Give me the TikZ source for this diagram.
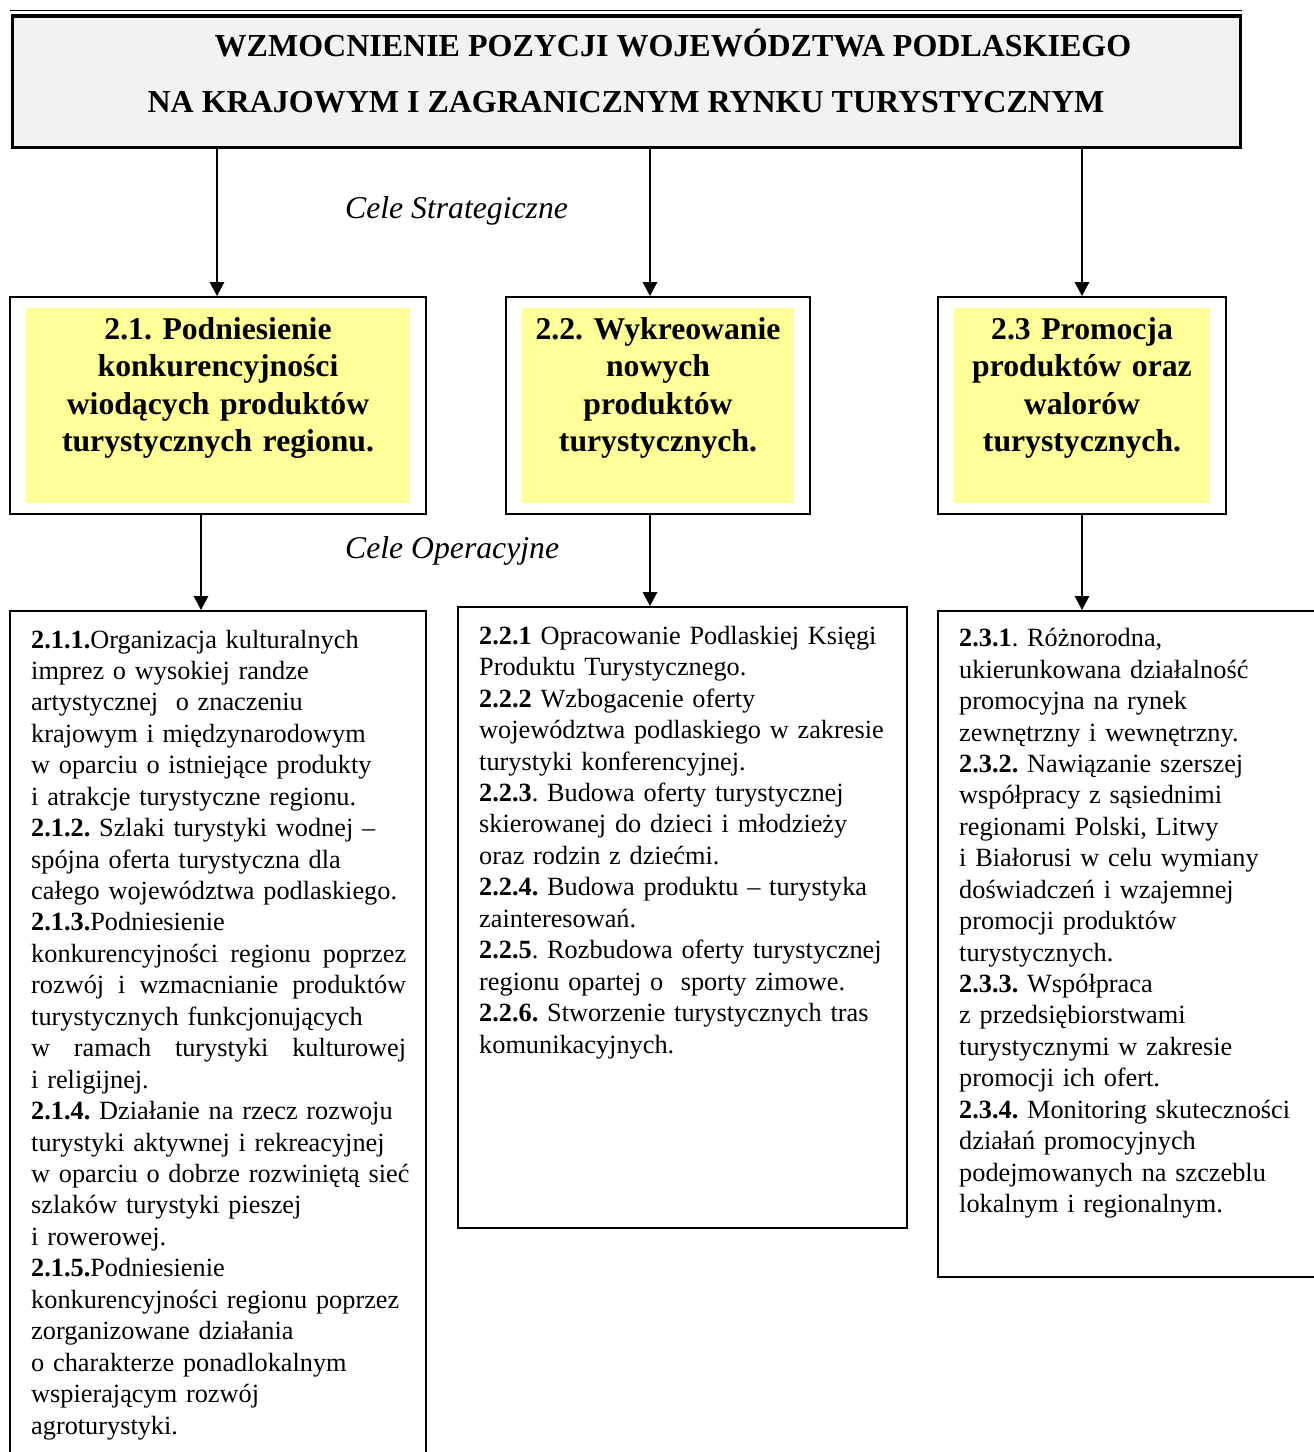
\documentclass[tikz,border=0pt]{standalone}
\usepackage{fontspec}
\setmainfont{Liberation Serif}
\usetikzlibrary{arrows.meta}
\definecolor{ttlgray}{HTML}{F2F2F2}
\definecolor{ylw}{HTML}{FFFF99}
\newcommand{\jline}[1]{\leavevmode\hbox to 375pt{#1}}
\frenchspacing
\begin{document}
\frenchspacing
\begin{tikzpicture}[x=1pt,y=-1pt,
  arr/.style={line width=2.6pt,-{Triangle[length=14pt,width=14pt]}},
  topbox/.style={draw,line width=3.4pt,fill=ttlgray,inner sep=0pt},
  goalbox/.style={draw,line width=1.8pt,fill=white,inner sep=0pt},
  ylwbox/.style={fill=ylw,inner sep=0pt},
  opbox/.style={draw,line width=1.8pt,fill=white,inner sep=0pt},
  maintitle/.style={inner sep=0pt,font=\fontsize{32}{38}\selectfont\bfseries},
  goaltext/.style={inner sep=0pt,align=center,anchor=base,font=\fontsize{31.7}{37.6}\selectfont\bfseries\frenchspacing},
  optext/.style={inner sep=0pt,align=left,anchor=base west,font=\fontsize{26.3}{31.44}\selectfont\frenchspacing},
  lbl/.style={inner sep=0pt,anchor=base west,font=\fontsize{31.7}{36}\selectfont\itshape}
]
\useasboundingbox (0,0) rectangle (1314,1452);

% top box
\node[topbox,minimum width=1228.5pt,minimum height=131.5pt] (top) at (626.5,81.75) {};
\draw[line width=1.1pt] ([xshift=-1pt,yshift=3.4pt]top.north west) -- ([xshift=0pt,yshift=3.4pt]top.north east);
\draw[line width=1.1pt] ([xshift=-3.4pt]top.north east) -- ([xshift=-3.4pt]top.south east);
\node[maintitle,anchor=base] (t1) at (673,56) {WZMOCNIENIE POZYCJI WOJEWÓDZTWA PODLASKIEGO};
\node[maintitle,anchor=base] (t2) at (626,112) {NA KRAJOWYM I ZAGRANICZNYM RYNKU TURYSTYCZNYM};

% strategic goals
\node[goalbox,minimum width=416pt,minimum height=217pt] (s21) at (218,405.5) {};
\node[goalbox,minimum width=304pt,minimum height=217pt] (s22) at (658,405.5) {};
\node[goalbox,minimum width=288pt,minimum height=217pt] (s23) at (1082,405.5) {};
\node[ylwbox,minimum width=384pt,minimum height=195pt] (y21) at (218,405.5) {};
\node[ylwbox,minimum width=272pt,minimum height=195pt] (y22) at (658,405.5) {};
\node[ylwbox,minimum width=256pt,minimum height=195pt] (y23) at (1082,405.5) {};
\node[goaltext,text width=380pt] (g21) at (218,339) {2.1. Podniesienie\\ konkurencyjności\\ wiodących produktów\\ turystycznych regionu.};
\node[goaltext,text width=270pt] (g22) at (658,339) {2.2. Wykreowanie\\ nowych\\ produktów\\ turystycznych.};
\node[goaltext,text width=254pt] (g23) at (1082,339) {2.3 Promocja\\ produktów oraz\\ walorów\\ turystycznych.};

\node[lbl] (cs) at (345,218) {Cele Strategiczne};
\node[lbl] (co) at (345,558) {Cele Operacyjne};

% operational boxes
\node[opbox,minimum width=416pt,minimum height=869pt] (o21) at (218,1045.5) {};
\node[opbox,minimum width=449pt,minimum height=621pt] (o22) at (682.5,917.5) {};
\node[opbox,minimum width=392pt,minimum height=666pt] (o23) at (1134,944) {};

% arrows
\coordinate (xa) at (217,0);
\coordinate (xb) at (650,0);
\coordinate (xc) at (1082,0);
\coordinate (xd) at (201,0);
\draw[arr] (top.south -| xa) -- (s21.north -| xa);
\draw[arr] (top.south -| xb) -- (s22.north -| xb);
\draw[arr] (top.south -| xc) -- (s23.north -| xc);
\draw[arr] (s21.south -| xd) -- (o21.north -| xd);
\draw[arr] (s22.south -| xb) -- (o22.north -| xb);
\draw[arr] (s23.south -| xc) -- (o23.north -| xc);

% operational texts
\node[optext,text width=395pt] (p21) at (31,648) {%
\textbf{2.1.1.}Organizacja kulturalnych\\
imprez o wysokiej randze\\
artystycznej\ \ o znaczeniu\\
krajowym i międzynarodowym\\
w oparciu o istniejące produkty\\
i atrakcje turystyczne regionu.\\
\textbf{2.1.2.} Szlaki turystyki wodnej –\\
spójna oferta turystyczna dla\\
całego województwa podlaskiego.\\
\textbf{2.1.3.}Podniesienie\\
\jline{konkurencyjności\hfill regionu\hfill poprzez}\\
\jline{rozwój\hfill i\hfill wzmacnianie\hfill produktów}\\
turystycznych funkcjonujących\\
\jline{w\hfill ramach\hfill turystyki\hfill kulturowej}\\
i religijnej.\\
\textbf{2.1.4.} Działanie na rzecz rozwoju\\
turystyki aktywnej i rekreacyjnej\\
w oparciu o dobrze rozwiniętą sieć\\
szlaków turystyki pieszej\\
i rowerowej.\\
\textbf{2.1.5.}Podniesienie\\
konkurencyjności regionu poprzez\\
zorganizowane działania\\
o charakterze ponadlokalnym\\
wspierającym rozwój\\
agroturystyki.};

\node[optext,text width=425pt] (p22) at (479,644.3) {%
\textbf{2.2.1} Opracowanie Podlaskiej Księgi\\
Produktu Turystycznego.\\
\textbf{2.2.2} Wzbogacenie oferty\\
województwa podlaskiego w zakresie\\
turystyki konferencyjnej.\\
\textbf{2.2.3}. Budowa oferty turystycznej\\
skierowanej do dzieci i młodzieży\\
oraz rodzin z dziećmi.\\
\textbf{2.2.4.} Budowa produktu – turystyka\\
zainteresowań.\\
\textbf{2.2.5}. Rozbudowa oferty turystycznej\\
regionu opartej o\ \ sporty zimowe.\\
\textbf{2.2.6.} Stworzenie turystycznych tras\\
komunikacyjnych.};

\node[optext,text width=350pt] (p23) at (959,646.7) {%
\textbf{2.3.1}. Różnorodna,\\
ukierunkowana działalność\\
promocyjna na rynek\\
zewnętrzny i wewnętrzny.\\
\textbf{2.3.2.} Nawiązanie szerszej\\
współpracy z sąsiednimi\\
regionami Polski, Litwy\\
i Białorusi w celu wymiany\\
doświadczeń i wzajemnej\\
promocji produktów\\
turystycznych.\\
\textbf{2.3.3.} Współpraca\\
z przedsiębiorstwami\\
turystycznymi w zakresie\\
promocji ich ofert.\\
\textbf{2.3.4.} Monitoring skuteczności\\
działań promocyjnych\\
podejmowanych na szczeblu\\
lokalnym i regionalnym.};
\end{tikzpicture}
\end{document}
